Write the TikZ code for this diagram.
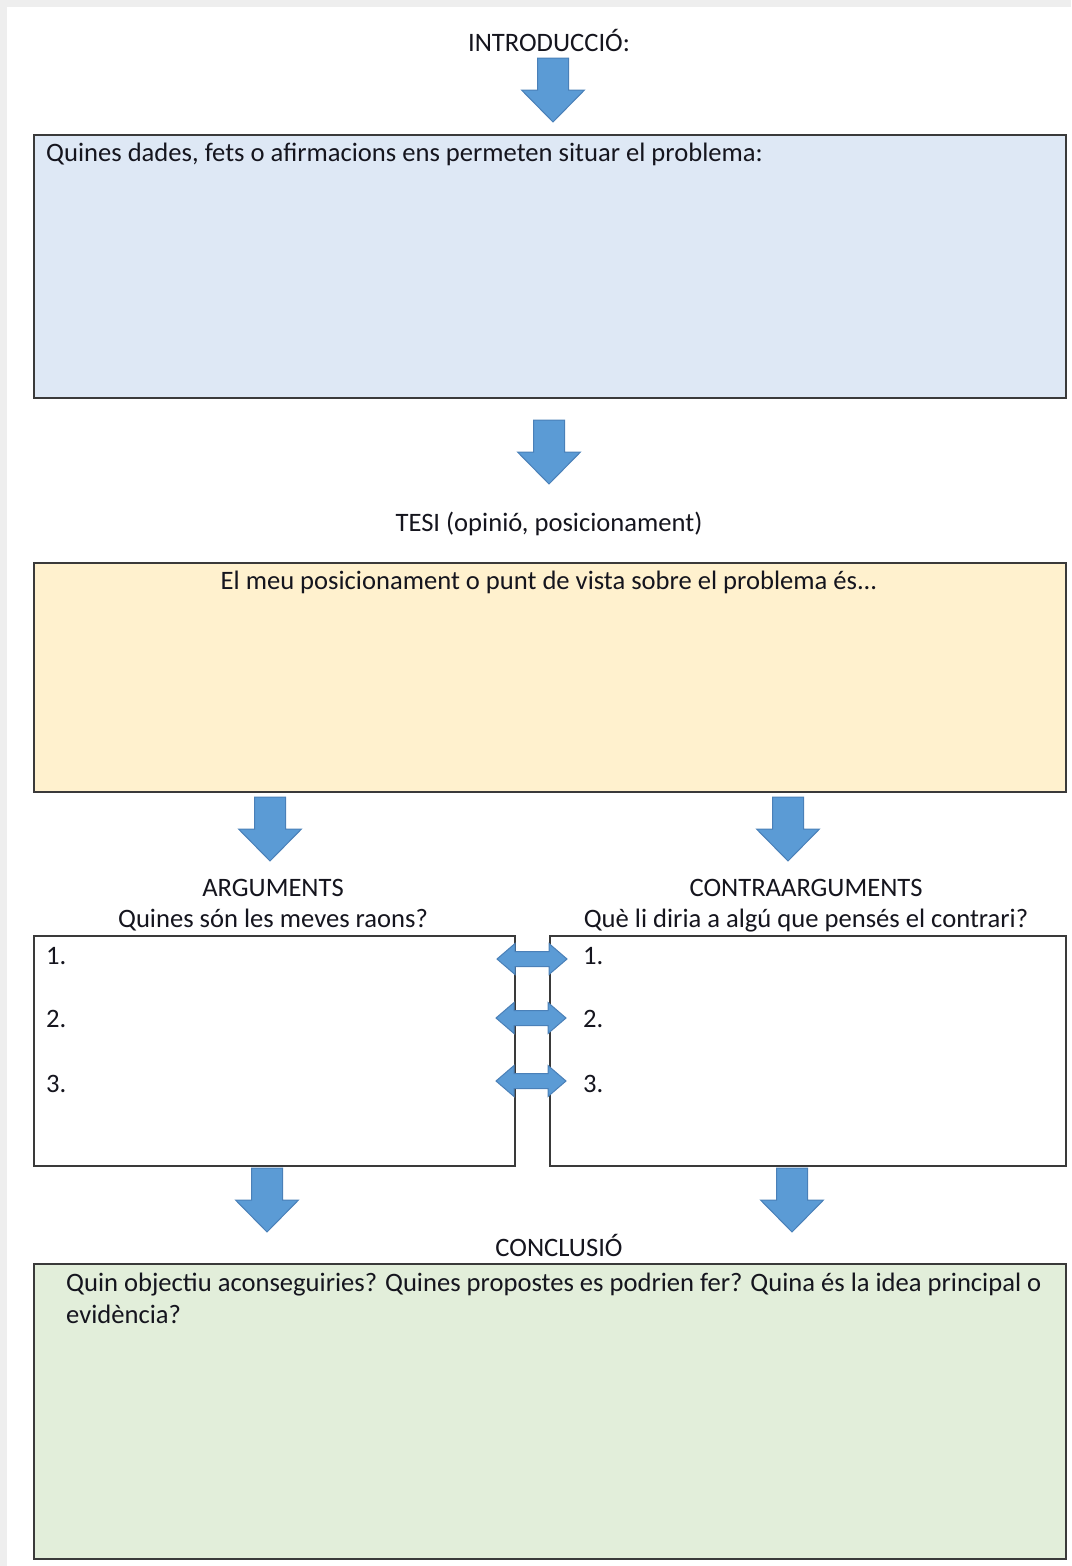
\documentclass[tikz,border=0pt]{standalone}
\usepackage{fontspec}
\setmainfont{Carlito}
\definecolor{bandgray}{HTML}{EEEEEE}
\definecolor{boxline}{HTML}{3A3A3A}
\definecolor{introfill}{HTML}{DEE8F5}
\definecolor{tesifill}{HTML}{FFF1CE}
\definecolor{conclfill}{HTML}{E2EEDA}
\definecolor{arrowblue}{HTML}{5B9BD5}
\definecolor{arrowedge}{HTML}{4A80B8}
\definecolor{txt}{HTML}{15151E}
\tikzset{
  panel/.style={draw=boxline, line width=2pt, anchor=north west, inner sep=0pt},
  lbl/.style={font=\fontsize{26.6}{32}\selectfont, text=txt, inner sep=0pt, anchor=base},
  lbll/.style={lbl, anchor=base west},
  pics/downarrow/.style={code={
    \filldraw[fill=arrowblue, draw=arrowedge, line width=1pt]
      (-15.5,0) -- (15.5,0) -- (15.5,32) -- (31.5,32) -- (0,64) -- (-31.5,32) -- (-15.5,32) -- cycle;
  }},
  pics/botharrow/.style={code={
    \filldraw[fill=arrowblue, draw=arrowedge, line width=1pt]
      (-35,0) -- (-17,-15.5) -- (-17,-7.5) -- (17,-7.5) -- (17,-15.5) -- (35,0)
      -- (17,15.5) -- (17,7.5) -- (-17,7.5) -- (-17,15.5) -- cycle;
  }}
}
\begin{document}
\begin{tikzpicture}[x=1pt, y=-1pt]
\useasboundingbox (0,0) rectangle (1071,1566);
\fill[white] (0,0) rectangle (1071,1566);
\fill[bandgray] (0,0) rectangle (1071,7);
\fill[bandgray] (0,0) rectangle (7,1566);

% Introduction
\node[lbl] (intro) at (549,51) {INTRODUCCIÓ:};
\pic (a1) at (553,58) {downarrow};
\node[panel, fill=introfill, minimum width=1032pt, minimum height=263pt] (box1) at (33,134) {};
\node[lbll] (q1) at (46,161) {Quines dades, fets o afirmacions ens permeten situar el problema:};

% Thesis
\pic (a2) at (549,420) {downarrow};
\node[lbl] (tesi) at (549,531) {TESI (opinió, posicionament)};
\node[panel, fill=tesifill, minimum width=1032pt, minimum height=229pt] (box2) at (33,562) {};
\node[lbl] (q2) at (549,589) {El meu posicionament o punt de vista sobre el problema és...};

% Arguments / counterarguments
\pic (a3l) at (270,797) {downarrow};
\pic (a3r) at (788,797) {downarrow};
\node[lbl] (arg) at (273,896) {ARGUMENTS};
\node[lbl] (argq) at (273,927) {Quines són les meves raons?};
\node[lbl] (carg) at (806,896) {CONTRAARGUMENTS};
\node[lbl] (cargq) at (806,927) {Què li diria a algú que pensés el contrari?};
\node[panel, fill=white, minimum width=481pt, minimum height=230pt] (boxl) at (33,935) {};
\node[panel, fill=white, minimum width=516pt, minimum height=230pt] (boxr) at (549,935) {};
\node[lbll] (l1) at (46,964) {1.};
\node[lbll] (l2) at (46,1027) {2.};
\node[lbll] (l3) at (46,1092) {3.};
\node[lbll] (r1) at (583,964) {1.};
\node[lbll] (r2) at (583,1027) {2.};
\node[lbll] (r3) at (583,1092) {3.};
\pic (d1) at (532,959) {botharrow};
\pic (d2) at (531,1018) {botharrow};
\pic (d3) at (531,1081) {botharrow};

% Conclusion
\pic (a4l) at (267,1168) {downarrow};
\pic (a4r) at (792,1168) {downarrow};
\node[lbl] (concl) at (559,1256) {CONCLUSIÓ};
\node[panel, fill=conclfill, minimum width=1032pt, minimum height=295pt] (box4) at (33,1263) {};
\node[lbll] (q4a) at (66,1291) {Quin objectiu aconseguiries? Quines propostes es podrien fer? Quina és la idea principal o};
\node[lbll] (q4b) at (66,1323) {evidència?};
\end{tikzpicture}
\end{document}
